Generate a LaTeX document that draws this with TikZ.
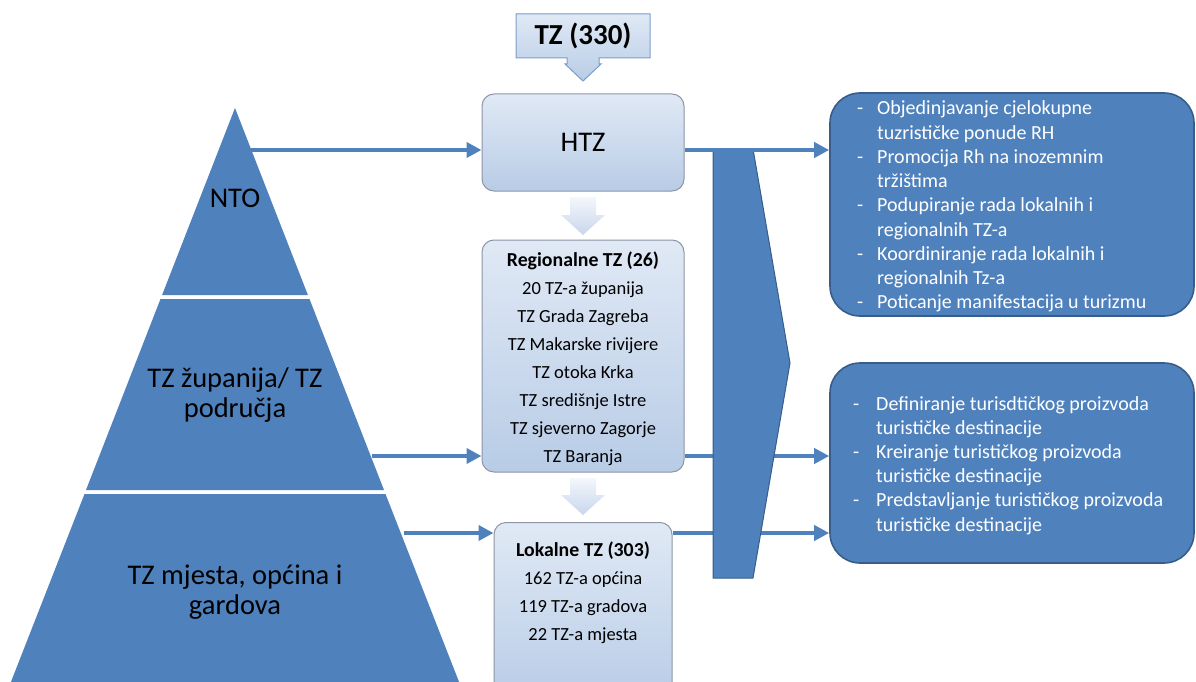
\documentclass[tikz,border=0pt]{standalone}
\usepackage{fontspec}
\setmainfont{Carlito}
\usetikzlibrary{arrows.meta}
\definecolor{pblue}{RGB}{79,129,189}
\definecolor{pborder}{RGB}{56,93,138}
\definecolor{lbtop}{RGB}{224,233,245}
\definecolor{lbbot}{RGB}{184,204,230}
\definecolor{lbdraw}{RGB}{140,150,165}
\definecolor{arrtop}{RGB}{244,247,252}
\definecolor{arrbot}{RGB}{200,214,236}
\definecolor{tzdraw}{RGB}{124,156,203}
\begin{document}
\begin{tikzpicture}[x=1pt,y=-1pt,
  lightbox/.style={draw=lbdraw, line width=1pt, rounded corners=12pt, top color=lbtop, bottom color=lbbot, inner sep=0pt},
  darkbox/.style={draw=pborder, line width=1.6pt, fill=pblue, rounded corners=30pt, inner sep=0pt},
  conn/.style={draw=pblue, line width=4pt, -{Triangle[length=15pt,width=15pt]}},
  pyr/.style={fill=pblue},
  pyrtext/.style={font=\fontsize{28.5}{30}\selectfont, align=center, text=black},
  boxtext/.style={font=\fontsize{18.5}{22}\selectfont, anchor=base, text=black, inner sep=0pt},
  boldtext/.style={font=\bfseries\fontsize{19.8}{22}\selectfont, anchor=base, text=black, inner sep=0pt},
  wtext/.style={font=\fontsize{20}{24}\selectfont, text=white, anchor=base west, inner sep=0pt},
  downarrow/.style={top color=arrtop, bottom color=arrbot}
]
\useasboundingbox (0,0) rectangle (1196,682);
\clip (0,0) rectangle (1196,682);

% pyramid
\fill[pyr] (235,108) -- (307.9,295) -- (162.1,295) -- cycle;
\fill[pyr] (160.5,299) -- (309.5,299) -- (384,490) -- (86,490) -- cycle;
\fill[pyr] (84.5,494) -- (385.5,494) -- (463,692) -- (7,692) -- cycle;
\node[pyrtext] (nto) at (235,198) {NTO};
\node[pyrtext] (zup) at (235,395) {TZ županija/ TZ\\područja};
\node[pyrtext] (mje) at (235,592) {TZ mjesta, općina i\\gardova};
\coordinate (s1) at (251,150);
\coordinate (s2) at (372,456);
\coordinate (s3) at (404,533);

% TZ (330)
\draw[draw=tzdraw, line width=1pt, top color=lbtop, bottom color=lbbot]
  (516,14) -- (650,14) -- (650,58) -- (599,58) -- (599,64) -- (601,64) -- (583,81)
  -- (565,64) -- (567,64) -- (567,58) -- (516,58) -- cycle;
\node[font=\bfseries\fontsize{29}{30}\selectfont, inner sep=0pt] (tz) at (583,36) {TZ (330)};

% middle boxes
\node[lightbox, minimum width=202pt, minimum height=97pt, font=\fontsize{28.5}{30}\selectfont] (htz) at (583,142.5) {HTZ};
\node[lightbox, minimum width=202pt, minimum height=232pt] (reg) at (583,356) {};
\node[lightbox, minimum width=178pt, minimum height=180pt, anchor=north] (lok) at (583,522) {};

\shade[downarrow] (570,197) -- (596,197) -- (596,215) -- (605,215) -- (583,235) -- (561,215) -- (570,215) -- cycle;
\shade[downarrow] (570,478) -- (596,478) -- (596,495) -- (605,495) -- (583,515) -- (561,495) -- (570,495) -- cycle;

\node[boldtext] (r0) at (583,266) {Regionalne TZ (26)};
\foreach \t [count=\i] in {20 TZ-a županija, TZ Grada Zagreba, TZ Makarske rivijere, TZ otoka Krka, TZ središnje Istre, TZ sjeverno Zagorje, TZ Baranja}
  \node[boxtext] (r\i) at (583,{266+28*\i}) {\t};

\node[boldtext] (l0) at (583,556) {Lokalne TZ (303)};
\foreach \t [count=\i] in {162 TZ-a općina, 119 TZ-a gradova, 22 TZ-a mjesta}
  \node[boxtext] (l\i) at (583,{556+28*\i}) {\t};

% right boxes
\node[darkbox, minimum width=364pt, minimum height=223pt] (b1) at (1012,204.5) {};
\node[darkbox, minimum width=364pt, minimum height=200pt] (b2) at (1012,463) {};

\foreach \t [count=\i from 0] in {Objedinjavanje cjelokupne, tuzrističke ponude RH, Promocija Rh na inozemnim, tržištima, Podupiranje rada lokalnih i, regionalnih TZ-a, Koordiniranje rada lokalnih i, regionalnih Tz-a, Poticanje manifestacija u turizmu}
  \node[wtext] (a\i) at (877,{115+24.2*\i}) {\t};
\foreach \i in {0,2,4,6,8}
  \node[wtext] (da\i) at (857,{115+24.2*\i}) {-};

\foreach \t [count=\i from 0] in {Definiranje turisdtičkog proizvoda, turističke destinacije, Kreiranje turističkog proizvoda, turističke destinacije, Predstavljanje turističkog proizvoda, turističke destinacije}
  \node[wtext] (c\i) at (876,{410+24.2*\i}) {\t};
\foreach \i in {0,2,4}
  \node[wtext] (dc\i) at (853,{410+24.2*\i}) {-};

% connectors
\draw[conn] (s1) -- (s1 -| htz.west);
\draw[conn] (s2) -- (s2 -| reg.west);
\draw[conn] (s3) -- (s3 -| lok.west);
\draw[conn] (reg.east |- s2) -- (b2.west |- s2);
\draw[conn] (lok.east |- s3) -- (b2.west |- s3);

% big chevron
\draw[fill=pblue, draw=pborder, line width=1pt] (713,149) -- (753,149) -- (790,363) -- (753,578) -- (713,578) -- cycle;

\draw[conn] (htz.east |- s1) -- (b1.west |- s1);
\end{tikzpicture}
\end{document}
